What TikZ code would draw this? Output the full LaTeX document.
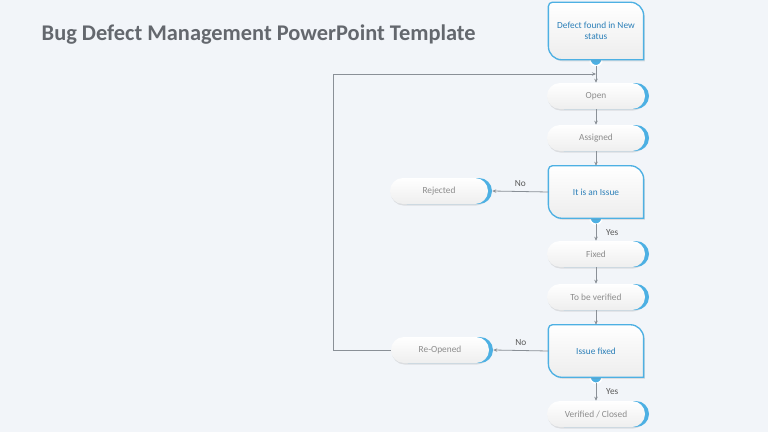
\documentclass[tikz,border=0pt]{standalone}
\usepackage{fontspec}
\setmainfont{Carlito}
\usetikzlibrary{arrows.meta,shadows}
\pgfdeclarelayer{back}
\pgfsetlayers{back,main}
\definecolor{bgc}{HTML}{F2F5F9}
\definecolor{edgeblue}{HTML}{4DB0E3}
\definecolor{textblue}{HTML}{2B7FB8}
\definecolor{pilltext}{HTML}{8C8C8C}
\definecolor{linegray}{HTML}{8A9097}
\definecolor{titlegray}{HTML}{64686E}
\tikzset{
  pill/.style={rectangle,rounded corners=9.75pt,minimum width=73.5pt,minimum height=19.5pt,inner sep=0pt,
    top color=white,bottom color=gray!13,font=\fontsize{7}{8}\selectfont,text=pilltext,
    drop shadow={shadow xshift=0.6pt,shadow yshift=-1.2pt,opacity=0.2},
    general shadow={fill=edgeblue,shadow xshift=3pt,shadow yshift=0pt}},
  decbox/.style={rectangle,minimum width=71pt,minimum height=39pt,inner sep=0pt,
    font=\fontsize{7}{8.5}\selectfont,text=textblue,align=center},
  flow/.style={linegray,line width=0.6pt,-{Stealth[length=3pt,width=2.6pt]}},
  lbl/.style={font=\fontsize{7}{8}\selectfont,text=black!65}
}
\begin{document}
\begin{tikzpicture}[x=0.75pt,y=-0.75pt]
\begin{pgfonlayer}{back}
\fill[bgc] (0,0) rectangle (768,432);
\end{pgfonlayer}
\useasboundingbox (0,0) rectangle (768,432);
\node[anchor=west,font=\fontsize{16.8}{19}\bfseries,text=titlegray] (title) at (37,35) {Bug Defect Management PowerPoint Template};
% decision boxes
\node[decbox,minimum height=42.75pt] (newq) at (596,31) {Defect found in New\\status};
\node[decbox] (issue) at (596,192) {It is an Issue};
\node[decbox] (fixq) at (596,351) {Issue fixed};
\begin{pgfonlayer}{back}
\foreach \n in {newq,issue,fixq}{
  \fill[edgeblue,draw=white,line width=1.2pt] (\n.south) circle (4.5pt);
  \draw[edgeblue,line width=1pt,top color=white,bottom color=gray!14,drop shadow={shadow xshift=1pt,shadow yshift=-1.2pt,opacity=0.2}]
    (\n.south east) [rounded corners=10pt] -- (\n.north east) [rounded corners=3pt] -- (\n.north west) [rounded corners=10pt] -- (\n.south west) [sharp corners] -- cycle;}
\end{pgfonlayer}
% steps
\foreach \n/\x/\y/\t in {open/596/96/Open,assigned/596/138/Assigned,fixed/596/254/Fixed,verify/596/297/To be verified,closed/596/414/{Verified / Closed},rejected/439/191/Rejected,reopen/440/350/Re-Opened}
  \node[pill] (\n) at (\x,\y) {\t};
\coordinate (loopin) at (596,74);
\coordinate (lc) at (333,74);
\draw[flow] ([yshift=-4.5pt]newq.south) -- (open.north);
\draw[flow] (open.south) -- (assigned.north);
\draw[flow] (assigned.south) -- (issue.north);
\draw[flow] ([yshift=-4.5pt]issue.south) -- node[lbl,right=4pt] {Yes} (fixed.north);
\draw[flow] (fixed.south) -- (verify.north);
\draw[flow] (verify.south) -- (fixq.north);
\draw[flow] ([yshift=-4.5pt]fixq.south) -- node[lbl,right=4pt] {Yes} (closed.north);
\draw[flow] (issue.west) -- node[lbl,above] {No} ([xshift=3pt]rejected.east);
\draw[flow] (fixq.west) -- node[lbl,above] {No} ([xshift=3pt]reopen.east);
\draw[flow] (reopen.west) -| (lc) -- (loopin);
\end{tikzpicture}
\end{document}
